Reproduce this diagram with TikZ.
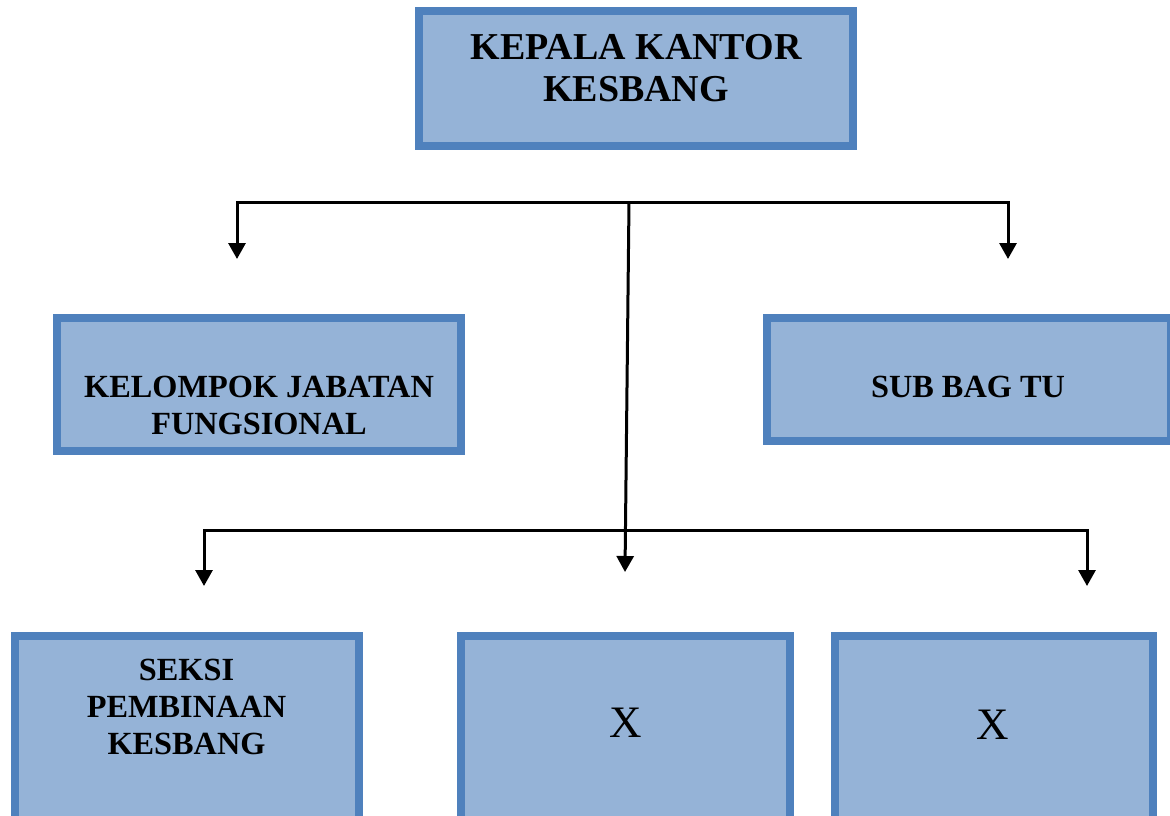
\documentclass[tikz,border=0pt]{standalone}
\usepackage{fontspec}
\setmainfont{Liberation Serif}
\usetikzlibrary{arrows.meta}
\definecolor{boxborder}{HTML}{4F81BD}
\definecolor{boxfill}{HTML}{95B3D7}
\tikzset{
  orgbox/.style={draw=boxborder, fill=boxfill, line width=7.5pt, rectangle, inner sep=0pt},
  bigtxt/.style={font=\bfseries\fontsize{38}{42}\selectfont, align=center, inner sep=0pt},
  midtxt/.style={font=\bfseries\fontsize{32.3}{37}\selectfont, align=center, inner sep=0pt},
  xtxt/.style={font=\fontsize{45}{50}\selectfont, inner sep=0pt},
  conn/.style={line width=3pt, black, -{Triangle[width=17pt,length=16pt]}}
}
\begin{document}
\begin{tikzpicture}[x=1pt,y=-1pt]
\useasboundingbox (0,0) rectangle (1170,816);
\clip (0,0) rectangle (1170,816);
% boxes
\node[orgbox, minimum width=434pt, minimum height=135pt] (kepala) at (636,78.5) {};
\node[orgbox, minimum width=404pt, minimum height=133pt] (kelompok) at (259,384.5) {};
\node[orgbox, minimum width=404pt, minimum height=123pt] (subbag) at (969,379.5) {};
\node[orgbox, minimum width=344pt, minimum height=190pt] (seksi) at (187,731) {};
\node[orgbox, minimum width=329pt, minimum height=190pt] (xmid) at (625.5,731) {};
\node[orgbox, minimum width=318pt, minimum height=190pt] (xright) at (994,731) {};
% texts
\node[bigtxt] (kepalaT) at (636,68) {KEPALA KANTOR\\KESBANG};
\node[midtxt] (kelompokT) at (259,405.5) {KELOMPOK JABATAN\\FUNGSIONAL};
\node[midtxt] (subbagT) at (968,387) {SUB BAG TU};
\node[midtxt] (seksiT) at (186.5,706.5) {SEKSI\\PEMBINAAN\\KESBANG};
\node[xtxt] (xmidT) at (626,723) {X};
\node[xtxt] (xrightT) at (993,725) {X};
% connector points
\coordinate (hub1) at (629,202);
\coordinate (hub2) at (625.4,530);
\coordinate (aKel) at (237,259);
\coordinate (aSub) at (1008,259);
\coordinate (aMid) at (625,572);
\coordinate (aSeksi) at (204,586);
\coordinate (aXr) at (1087,586);
% connectors
\draw[conn] (hub1) -| (aKel);
\draw[conn] (hub1) -| (aSub);
\draw[conn] (hub1) -- (aMid);
\draw[conn] (hub2) -| (aSeksi);
\draw[conn] (hub2) -| (aXr);
\end{tikzpicture}
\end{document}
